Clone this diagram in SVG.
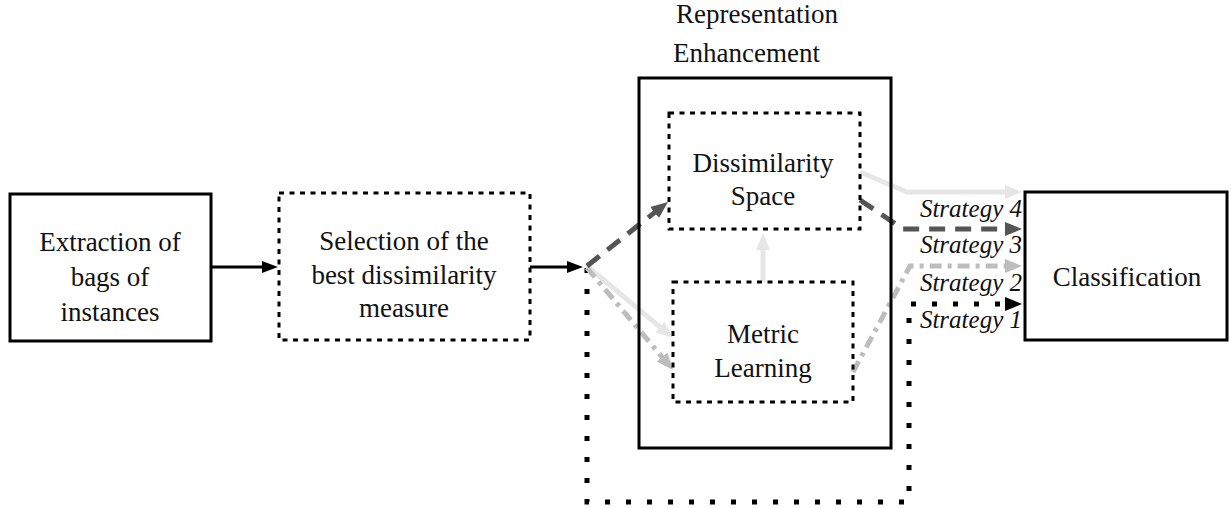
<svg xmlns="http://www.w3.org/2000/svg" width="1231" height="508" viewBox="0 0 1231 508" font-family="'Liberation Serif', 'Times New Roman', serif">
<style>
text{font-size:27px;fill:#111}
.c{text-anchor:middle}
.it{font-style:italic;font-size:25px;text-anchor:end}
.solid{fill:none;stroke:#000;stroke-width:3}
.dot{fill:none;stroke:#000;stroke-width:3;stroke-dasharray:5 5.5}
.c0{fill:none;stroke:#000;stroke-width:3}
.c1{fill:none;stroke:#555;stroke-width:5;stroke-dasharray:16 10}
.c2{fill:none;stroke:#e6e6e6;stroke-width:5}
.c3{fill:none;stroke:#bdbdbd;stroke-width:5;stroke-dasharray:12 6 4 6}
.c4{fill:none;stroke:#000;stroke-width:5;stroke-dasharray:5 16}
</style>
<defs>
<marker id="a0" markerUnits="userSpaceOnUse" markerWidth="20" markerHeight="20" refX="1" refY="6" orient="auto"><path d="M0,0 L16,6 L0,12 z" fill="#000"/></marker>
<marker id="a1" markerUnits="userSpaceOnUse" markerWidth="20" markerHeight="20" refX="1" refY="7" orient="auto"><path d="M0,0 L17,7 L0,14 z" fill="#555"/></marker>
<marker id="a2" markerUnits="userSpaceOnUse" markerWidth="20" markerHeight="20" refX="1" refY="7" orient="auto"><path d="M0,0 L17,7 L0,14 z" fill="#e6e6e6"/></marker>
<marker id="a3" markerUnits="userSpaceOnUse" markerWidth="20" markerHeight="20" refX="1" refY="7" orient="auto"><path d="M0,0 L17,7 L0,14 z" fill="#bdbdbd"/></marker>
<marker id="a4" markerUnits="userSpaceOnUse" markerWidth="20" markerHeight="20" refX="1" refY="7" orient="auto"><path d="M0,0 L17,7 L0,14 z" fill="#000"/></marker>
</defs>

<g id="connectors">
<path class="c0" d="M211,267 L263,267" marker-end="url(#a0)"/>
<path class="c0" d="M530,267 L568,267" marker-end="url(#a0)"/>
<path class="c4" d="M587,268 L587,502 L909,502 L909,304 L1006,304" marker-end="url(#a4)"/>
<path class="c2" d="M587,266 L660.7,327.7" marker-end="url(#a2)"/>
<path class="c3" d="M587,268 L662.7,357.8" marker-end="url(#a3)"/>
<path class="c1" d="M587,266 L655.4,211.9" marker-end="url(#a1)"/>
<path class="c2" d="M763,282 L763,249" marker-end="url(#a2)"/>
<path class="c2" d="M860,172 L907,192 L1006,192" marker-end="url(#a2)"/>
<path class="c1" d="M860,200 L903,229 L1006,229" marker-end="url(#a1)"/>
<path class="c3" d="M853,372 L910,266 L1006,266" marker-end="url(#a3)"/>
</g>

<g id="extraction">
<rect class="solid" x="10" y="194" width="201" height="147"/>
<text class="c" x="110" y="251">Extraction of</text>
<text class="c" x="110" y="286">bags of</text>
<text class="c" x="110" y="321">instances</text>
</g>

<g id="selection">
<rect class="dot" x="279" y="193" width="251" height="147"/>
<text class="c" x="404" y="250">Selection of the</text>
<text class="c" x="404" y="284">best dissimilarity</text>
<text class="c" x="404" y="317">measure</text>
</g>

<g id="representation">
<rect class="solid" x="639" y="78" width="252" height="370"/>
<text x="676" y="23">Representation</text>
<text x="673" y="62">Enhancement</text>
</g>

<g id="dissimilarity">
<rect class="dot" x="669" y="113" width="191" height="116"/>
<text class="c" x="763" y="172">Dissimilarity</text>
<text class="c" x="763" y="205">Space</text>
</g>

<g id="metric">
<rect class="dot" x="673" y="282" width="180" height="120"/>
<text class="c" x="763" y="343">Metric</text>
<text class="c" x="763" y="377">Learning</text>
</g>

<g id="classification">
<rect class="solid" x="1025" y="192" width="202" height="148"/>
<text class="c" x="1127" y="286">Classification</text>
</g>

<g id="labels">
<text class="it" x="1022" y="217">Strategy 4</text>
<text class="it" x="1022" y="253">Strategy 3</text>
<text class="it" x="1022" y="291">Strategy 2</text>
<text class="it" x="1022" y="328">Strategy 1</text>
</g>
</svg>
